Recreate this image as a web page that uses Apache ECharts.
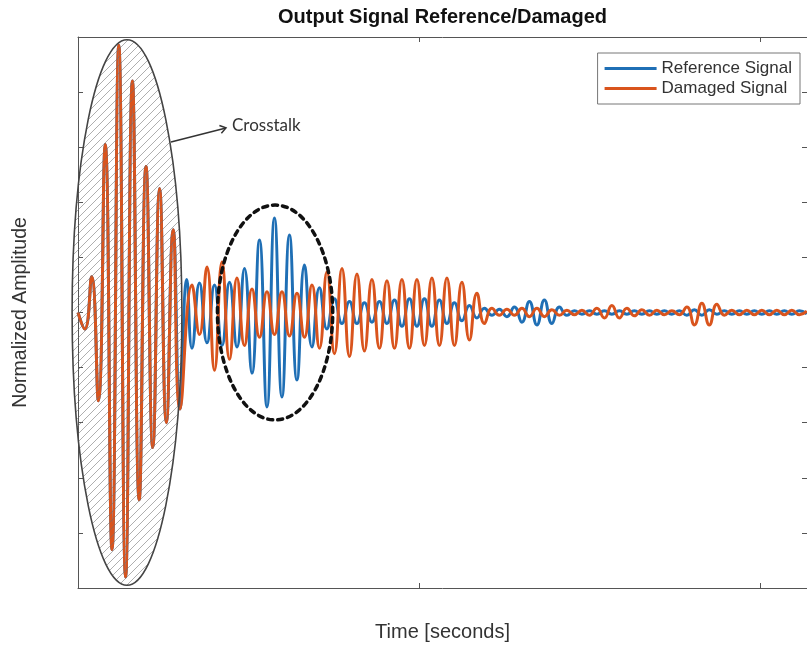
<!DOCTYPE html>
<html><head><meta charset="utf-8">
<script src="https://cdn.jsdelivr.net/npm/echarts@6/dist/echarts.min.js"></script>
<style>html,body{margin:0;padding:0;background:#fff}#c{width:807px;height:648px}</style>
</head><body><div id="c"></div>
<script>
// ---- data ----
const xTicks = [0, 1, 2];
const yTicks = [-1, -0.8, -0.6, -0.4, -0.2, 0, 0.2, 0.4, 0.6, 0.8, 1];
const seriesNames = ['Reference Signal', 'Damaged Signal'];

// crosstalk part: successive extremes, sampled every crosstalkStep seconds
const crosstalkStart = 0;
const crosstalkStep = 0.01994;
const damagedCrosstalk = [0, -0.06, 0.13, -0.32, 0.61, -0.86, 0.97, -0.96, 0.84, -0.68, 0.53, -0.49, 0.45, -0.40, 0.30, -0.35];
const referenceCrosstalk = [0, -0.06, 0.13, -0.32, 0.61, -0.86, 0.97, -0.96, 0.84, -0.68, 0.53, -0.49, 0.45, -0.40, 0.30, -0.35, 0.12];

// main part: successive extremes, sampled every mainStep seconds
const mainStart = 0.3343;
const mainStep = 0.02199;
const damagedMain = [
  0.10, -0.08, 0.165, -0.21, 0.183, -0.17, 0.125, -0.12, 0.085, -0.09,
  0.075, -0.08, 0.075, -0.085, 0.07, -0.09, 0.10, -0.13, 0.147, -0.15,
  0.16, -0.16, 0.14, -0.14, 0.12, -0.13, 0.115, -0.13, 0.12, -0.13,
  0.12, -0.12, 0.125, -0.12, 0.125, -0.12, 0.11, -0.10, 0.07, -0.04,
  0.015, -0.01, 0.012, -0.01, 0.015, -0.015, 0.015, -0.015, 0.01, -0.01,
  0.008, -0.008, 0.008, -0.01, 0.015, -0.02, 0.025, -0.02, 0.015, -0.012,
  0.01, -0.01, 0.008, -0.008, 0.006, -0.008, 0.02, -0.045, 0.034, -0.045,
  0.03, -0.01, 0.008, -0.008, 0.008, -0.008, 0.008, -0.008, 0.008, -0.008,
  0.008, -0.008, 0.005
];
const referenceMain = [
  -0.13, 0.107, -0.11, 0.10, -0.12, 0.11, -0.125, 0.16, -0.22, 0.263,
  -0.343, 0.343, -0.307, 0.281, -0.245, 0.172, -0.125, 0.09, -0.06, 0.05,
  -0.04, 0.04, -0.04, 0.035, -0.035, 0.04, -0.04, 0.045, -0.05, 0.05,
  -0.05, 0.05, -0.05, 0.045, -0.04, 0.035, -0.03, 0.025, -0.02, 0.015,
  -0.01, 0.012, -0.015, 0.02, -0.035, 0.04, -0.045, 0.045, -0.04, 0.02,
  -0.01, 0.006, -0.006, 0.006, -0.006, 0.006, -0.006, 0.006, -0.006, 0.006,
  -0.006, 0.006, -0.006, 0.006, -0.006, 0.006, -0.01, 0.01, -0.01, 0.01,
  -0.006, 0.006, -0.006, 0.006, -0.006, 0.006, -0.006, 0.006, -0.006, 0.006,
  -0.006, 0.006, -0.005
];

// ---- build ----
function samples(start, step, values) {
  return values.map((v, i) => [start + i * step, v]);
}
const referenceData = samples(crosstalkStart, crosstalkStep, referenceCrosstalk)
  .concat(samples(mainStart, mainStep, referenceMain));
const damagedData = samples(crosstalkStart, crosstalkStep, damagedCrosstalk)
  .concat(samples(mainStart, mainStep, damagedMain));

const BLUE = '#1f6fb5', ORANGE = '#d9541d', AXIS = '#555';
const X_MAX = 2.138;

function axisCommon(extra) {
  return Object.assign({
    axisLine: { show: true, onZero: false, lineStyle: { color: AXIS, width: 1 } },
    axisTick: { show: true, inside: true, length: 5, lineStyle: { color: AXIS } },
    axisLabel: { show: false },
    splitLine: { show: false }
  }, extra);
}

const chart = echarts.init(document.getElementById('c'), null, { renderer: 'canvas' });
chart.setOption({
  animation: false,
  backgroundColor: '#fff',
  grid: { left: 78, right: 0, top: 37, bottom: 60, containLabel: false },
  xAxis: [
    axisCommon({ type: 'value', min: 0, max: X_MAX, interval: 1, position: 'bottom',
      name: 'Time [seconds]', nameLocation: 'middle', nameGap: 34,
      nameTextStyle: { fontFamily: 'Liberation Sans', fontSize: 20, color: '#333' } }),
    axisCommon({ type: 'value', min: 0, max: X_MAX, interval: 1, position: 'top' })
  ],
  yAxis: [
    axisCommon({ type: 'value', min: -1, max: 1, interval: 0.2, position: 'left',
      name: 'Normalized Amplitude', nameLocation: 'middle', nameGap: 47,
      nameTextStyle: { fontFamily: 'Liberation Sans', fontSize: 19.5, color: '#333' } }),
    axisCommon({ type: 'value', min: -1, max: 1, interval: 0.2, position: 'right' })
  ],
  legend: {
    right: 7, top: 53, orient: 'vertical',
    data: seriesNames,
    icon: 'rect',
    itemWidth: 52, itemHeight: 3, itemGap: 3,
    padding: [7, 8, 7, 7],
    borderColor: '#777', borderWidth: 1, backgroundColor: '#fff',
    textStyle: { fontFamily: 'Liberation Sans', fontSize: 17, color: '#333' }
  },
  series: [
    { name: seriesNames[0], type: 'line', data: referenceData, showSymbol: false, symbol: 'none',
      smooth: 0.5, lineStyle: { color: BLUE, width: 3 }, itemStyle: { color: BLUE } },
    { name: seriesNames[1], type: 'line', data: damagedData, showSymbol: false, symbol: 'none',
      smooth: 0.5, lineStyle: { color: ORANGE, width: 3 }, itemStyle: { color: ORANGE } }
  ]
});

// ---- annotations (in data coordinates) ----
const crosstalkEllipse = { t: 0.1437, v: 0, rt: 0.161, rv: 0.99 };
const packetEllipse = { t: 0.578, v: 0, rt: 0.169, rv: 0.39 };
const arrowFrom = [0.2727, 0.619], arrowTo = [0.434, 0.67];
const labelAt = [0.4516, 0.677];

function px(t, v) { return chart.convertToPixel({ gridIndex: 0 }, [t, v]); }
function ellipseShape(e) {
  const c = px(e.t, e.v), r = px(e.t + e.rt, e.v + e.rv);
  return { cx: c[0], cy: c[1], rx: Math.abs(r[0] - c[0]), ry: Math.abs(c[1] - r[1]) };
}
function hatchCanvas() {
  const c = document.createElement('canvas'); c.width = 8; c.height = 8;
  const g = c.getContext('2d');
  g.strokeStyle = 'rgba(110,110,110,0.55)'; g.lineWidth = 1;
  g.beginPath();
  g.moveTo(0, 8); g.lineTo(8, 0);
  g.moveTo(-4, 4); g.lineTo(4, -4);
  g.moveTo(4, 12); g.lineTo(12, 4);
  g.stroke();
  return c;
}
const a0 = px(arrowFrom[0], arrowFrom[1]), a1 = px(arrowTo[0], arrowTo[1]);
const ang = Math.atan2(a1[1] - a0[1], a1[0] - a0[0]);
const head = 7;
const h1 = [a1[0] - head * Math.cos(ang - 0.6), a1[1] - head * Math.sin(ang - 0.6)];
const h2 = [a1[0] - head * Math.cos(ang + 0.6), a1[1] - head * Math.sin(ang + 0.6)];
const lab = px(labelAt[0], labelAt[1]);
const gridRect = { left: 78, right: 807 };

chart.setOption({
  graphic: [
    { type: 'ellipse', z: 100, shape: ellipseShape(crosstalkEllipse),
      style: { fill: { image: hatchCanvas(), repeat: 'repeat' }, stroke: '#444', lineWidth: 1.6 } },
    { type: 'ellipse', z: 100, shape: ellipseShape(packetEllipse),
      style: { fill: null, stroke: '#111', lineWidth: 3.5, lineDash: [5, 5], lineCap: 'round' } },
    { type: 'line', z: 100, shape: { x1: a0[0], y1: a0[1], x2: a1[0], y2: a1[1] },
      style: { stroke: '#333', lineWidth: 1.5 } },
    { type: 'polyline', z: 100, shape: { points: [h1, a1, h2] },
      style: { stroke: '#333', lineWidth: 1.5, fill: null } },
    { type: 'text', z: 100, x: lab[0], y: lab[1],
      style: { text: 'Crosstalk', font: '17px Lato', fill: '#333', textVerticalAlign: 'middle', textAlign: 'left' } },
    { type: 'text', z: 100, x: (gridRect.left + gridRect.right) / 2, y: 17,
      style: { text: 'Output Signal Reference/Damaged', font: 'bold 20px "Liberation Sans"', fill: '#111',
        textAlign: 'center', textVerticalAlign: 'middle' } }
  ]
});
</script>
</body></html>
